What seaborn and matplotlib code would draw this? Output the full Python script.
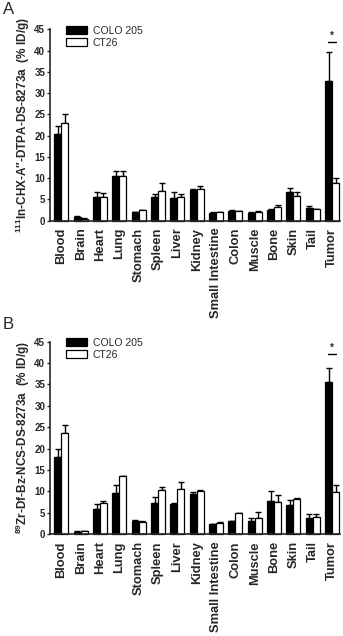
import matplotlib as mpl
mpl.use('Agg')
import matplotlib.pyplot as plt
import seaborn as sns
import pandas as pd
import numpy as np

organs = ['Blood', 'Brain', 'Heart', 'Lung', 'Stomach', 'Spleen', 'Liver', 'Kidney',
          'Small Intestine', 'Colon', 'Muscle', 'Bone', 'Skin', 'Tail', 'Tumor']
groups = ['COLO 205', 'CT26']

# panel A: 111In-CHX-A''-DTPA-DS-8273a
in_colo = [20.3, 0.9, 5.6, 10.4, 2.0, 5.6, 5.3, 7.1, 1.9, 2.3, 1.9, 2.4, 6.7, 3.1, 32.9]
in_colo_err = [1.9, 0.2, 1.2, 1.3, 0.1, 0.6, 1.4, 0.3, 0.1, 0.2, 0.1, 0.3, 0.9, 0.3, 6.8]
in_ct26 = [22.9, 0.5, 5.5, 10.6, 2.4, 7.0, 5.6, 7.4, 2.0, 2.2, 2.1, 3.3, 5.9, 2.7, 8.8]
in_ct26_err = [2.1, 0.1, 0.9, 1.0, 0.2, 1.8, 0.7, 0.7, 0.1, 0.1, 0.1, 0.5, 0.8, 0.1, 1.3]

# panel B: 89Zr-Df-Bz-NCS-DS-8273a
zr_colo = [18.1, 0.6, 5.8, 9.7, 3.0, 7.2, 7.0, 9.3, 2.3, 3.0, 3.0, 7.8, 6.9, 3.9, 35.5]
zr_colo_err = [1.8, 0.1, 1.3, 1.7, 0.3, 1.4, 0.3, 0.6, 0.1, 0.1, 0.7, 2.2, 1.1, 0.8, 3.4]
zr_ct26 = [23.6, 0.7, 7.2, 13.5, 2.9, 10.3, 10.5, 10.2, 2.7, 4.9, 3.7, 7.5, 8.2, 4.0, 9.8]
zr_ct26_err = [1.9, 0.05, 0.5, 0.1, 0.1, 0.7, 1.8, 0.2, 0.05, 0.1, 1.4, 1.7, 0.2, 0.8, 1.6]

ylabels = [r'$^{111}$In-CHX-A″-DTPA-DS-8273a  (% ID/g)',
           r'$^{89}$Zr-Df-Bz-NCS-DS-8273a  (% ID/g)']

sns.set_style('ticks')
plt.rcParams['font.family'] = ['Liberation Sans', 'DejaVu Sans']
plt.rcParams['mathtext.fontset'] = 'custom'
plt.rcParams['mathtext.rm'] = 'Liberation Sans:bold'

fig = plt.figure(figsize=(3.43, 6.36), dpi=100)

panels = [
    ('A', [0.146, 0.653, 0.846, 0.301], in_colo, in_colo_err, in_ct26, in_ct26_err, 0.997),
    ('B', [0.146, 0.160, 0.846, 0.303], zr_colo, zr_colo_err, zr_ct26, zr_ct26_err, 0.502),
]

for i, (letter, pos, colo, colo_err, ct, ct_err, ly) in enumerate(panels):
    ax = fig.add_axes(pos)
    df = pd.DataFrame({
        'organ': organs * 2,
        'group': [groups[0]] * len(organs) + [groups[1]] * len(organs),
        'value': colo + ct,
    })
    sns.barplot(data=df, x='organ', y='value', hue='group', order=organs, hue_order=groups,
                palette={groups[0]: 'black', groups[1]: 'white'}, edgecolor='black',
                linewidth=0.9, width=0.72, gap=0, errorbar=None, ax=ax, zorder=2)
    # one-sided error bars on top of each bar
    for cont, err in zip(ax.containers, [colo_err, ct_err]):
        xs = [p.get_x() + p.get_width() / 2 for p in cont.patches]
        ys = [p.get_height() for p in cont.patches]
        ax.errorbar(xs, ys, yerr=[np.zeros(len(err)), err], fmt='none', ecolor='black',
                    elinewidth=1.0, capsize=2.2, capthick=1.0, zorder=1)
    for p in ax.patches:
        p.set_clip_on(False)
    # significance mark over tumor
    t = organs.index('Tumor')
    ax.plot([t - 0.2, t + 0.2], [42, 42], color='black', lw=1.0, clip_on=False)
    ax.text(t, 42.3, '*', ha='center', va='bottom', fontsize=7, fontweight='bold')

    ax.set_ylim(0, 45)
    ax.set_xlim(-0.58, 14.42)
    ax.set_yticks(range(0, 46, 5))
    ax.set_xlabel('')
    ax.set_ylabel(ylabels[i], fontsize=8.5, fontweight='bold', labelpad=2)
    ax.tick_params(axis='y', labelsize=7, length=2.5, width=1, pad=1)
    ax.tick_params(axis='x', labelsize=9.3, length=0, pad=5, rotation=90)
    for lab in ax.get_xticklabels() + ax.get_yticklabels():
        lab.set_fontweight('bold')
    sns.despine(ax=ax)
    ax.spines['left'].set_linewidth(1.2)
    ax.spines['bottom'].set_linewidth(1.2)
    ax.legend(loc='upper left', bbox_to_anchor=(0.04, 1.04), frameon=False, fontsize=7.5,
              handlelength=2.0, handleheight=0.8, handletextpad=0.6, labelspacing=0.2,
              borderaxespad=0)
    fig.text(0.008, ly, letter, fontsize=12, va='top', ha='left')

fig.savefig('out.png', dpi=100)
